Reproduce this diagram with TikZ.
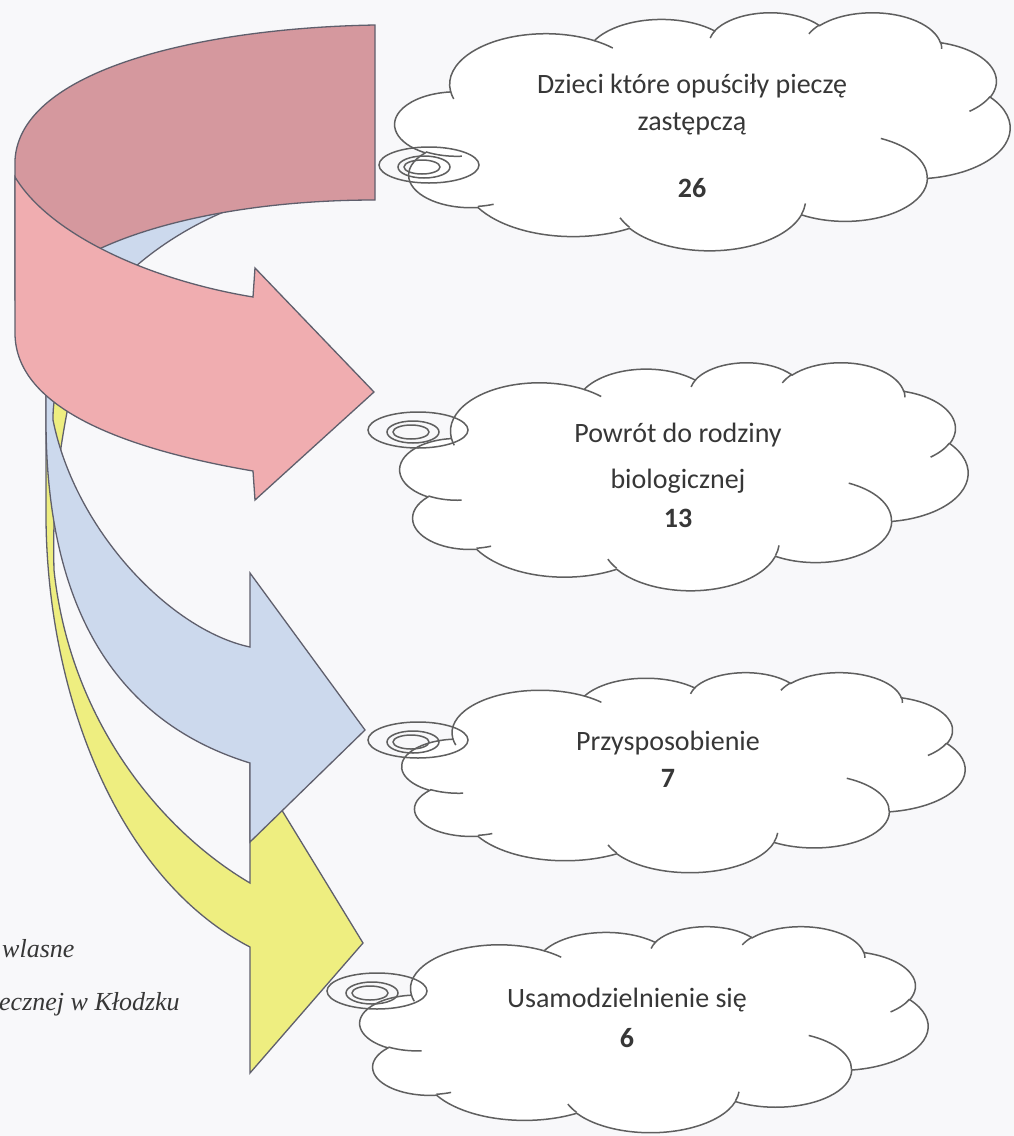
\documentclass[tikz,border=0pt]{standalone}
\usepackage{fontspec}
\setmainfont{Carlito}
\newfontfamily\srcfont{Liberation Serif}
\definecolor{paper}{RGB}{248,248,250}
\definecolor{pinkback}{RGB}{213,152,158}
\definecolor{pinkfront}{RGB}{240,173,176}
\definecolor{bluefill}{RGB}{204,217,237}
\definecolor{yellowfill}{RGB}{238,238,128}
\definecolor{arrowgray}{RGB}{95,95,108}
\definecolor{cloudgray}{RGB}{95,95,95}
\definecolor{textgray}{RGB}{55,55,55}
\tikzset{
  arrowshape/.style={draw=arrowgray, line width=1.3pt, line join=miter},
  cloudstroke/.style={draw=cloudgray, line width=1.5pt},
  ctext/.style={font=\fontsize{28}{34}\selectfont, text=textgray, inner sep=0pt},
  ntext/.style={font=\fontsize{28}{34}\selectfont\bfseries, text=textgray, inner sep=0pt},
  srctext/.style={font=\srcfont\itshape\fontsize{26}{30}\selectfont, text=textgray, inner sep=0pt},
}
\newcommand\drawmycloud[4]{%
  \begin{scope}[shift={(#1,#2)},xscale=#3/432,yscale=#4/432]
    \draw[cloudstroke,fill=white] (39.00,143.70)
      arc[start angle=-187.75,end angle=-59.64,x radius=67.53,y radius=91.90]
      arc[start angle=-151.99,end angle=-45.48,x radius=53.33,y radius=72.67]
      arc[start angle=-153.47,end angle=-37.37,x radius=43.65,y radius=59.45]
      arc[start angle=-139.77,end angle=-10.19,x radius=48.57,y radius=65.95]
      arc[start angle=-74.80,end angle=23.26,x radius=53.33,y radius=72.73]
      arc[start angle=-37.52,end angle=81.87,x radius=67.75,y radius=92.20]
      arc[start angle=0.46,end angle=121.99,x radius=57.85,y radius=78.67]
      arc[start angle=16.89,end angle=146.15,x radius=67.52,y radius=92.15]
      arc[start angle=59.08,end angle=150.09,x radius=77.20,y radius=105.43]
      arc[start angle=-276.71,end angle=-136.96,x radius=43.60,y radius=59.18]
      arc[start angle=-239.79,end angle=-95.85,x radius=43.45,y radius=59.45]
      -- cycle;
    \draw[cloudstroke]
      (46.93,261.77) arc[start angle=85.55,end angle=120.35,x radius=43.45,y radius=59.45]
      (69.28,348.99) arc[start angle=68.24,end angle=83.30,x radius=43.60,y radius=59.18]
      (164.78,390.90) arc[start angle=146.23,end angle=158.47,x radius=67.52,y radius=92.15]
      (288.27,347.51) arc[start angle=4.74,end angle=16.89,x radius=67.52,y radius=92.15]
      (341.29,229.54) arc[start angle=-64.03,end angle=0.46,x radius=57.85,y radius=78.67]
      (417.98,153.54) arc[start angle=23.26,end angle=49.63,x radius=53.33,y radius=72.73]
      (383.24,54.26) arc[start angle=-10.19,end angle=0.82,x radius=48.57,y radius=65.95]
      (290.78,39.52) arc[start angle=-156.29,end angle=-139.77,x radius=48.57,y radius=65.95]
      (221.41,47.20) arc[start angle=-167.73,end angle=-153.47,x radius=43.65,y radius=59.45]
      (140.00,51.92) arc[start angle=-59.64,end angle=-45.71,x radius=67.53,y radius=91.90]
      (41.27,157.89) arc[start angle=163.19,end angle=172.25,x radius=67.53,y radius=91.90];
  \end{scope}}
\newcommand\drawmytail[2]{%
  \draw[cloudstroke] (#1,#2) ellipse[x radius=50,y radius=18];
  \draw[cloudstroke] (#1-5,#2+2) ellipse[x radius=26,y radius=11];
  \draw[cloudstroke] (#1-7,#2+2) ellipse[x radius=18,y radius=7];}
\begin{document}
\begin{tikzpicture}[x=1pt,y=-1pt]
\useasboundingbox (0,0) rectangle (1014,1136);
\fill[paper] (0,0) rectangle (1014,1136);

% ---- arrows (back to front) ----
\draw[arrowshape, fill=yellowfill] (46,350) -- (46,520)
  .. controls (48,700) and (120,880) .. (250,947)
  -- (250,1073) -- (363,943) -- (250,758) -- (250,883)
  .. controls (160,830) and (70,720) .. (54,570)
  .. controls (52,490) and (60,440) .. (80,350) -- cycle;

\draw[arrowshape, fill=bluefill] (262,172)
  .. controls (100,182) and (46,260) .. (46,400) -- (46,420)
  .. controls (46,600) and (110,720) .. (250,763)
  -- (250,842) -- (365,730) -- (250,573) -- (250,647)
  .. controls (170,630) and (75,530) .. (53,420)
  .. controls (52,340) and (130,238) .. (262,198) -- cycle;

\draw[arrowshape, fill=pinkback] (15,300) -- (15,160)
  .. controls (20,70) and (200,28) .. (375,25) -- (375,200)
  .. controls (260,200) and (160,220) .. (97,250) -- (97,300) -- cycle;

\draw[arrowshape, fill=pinkfront] (15,177)
  .. controls (50,235) and (150,280) .. (253,297)
  -- (255,268) -- (374,392) -- (255,500) -- (253,471)
  .. controls (130,450) and (15,410) .. (15,333) -- cycle;

% ---- clouds ----
\drawmycloud{395}{12}{615}{238}
\drawmytail{429}{165}
\drawmycloud{400}{362}{568}{228}
\drawmytail{418}{430}
\drawmycloud{402}{672}{563}{200}
\drawmytail{418}{740}
\drawmycloud{360}{926}{568}{206}
\drawmytail{377}{991}

% ---- texts ----
\node[ctext, anchor=base] (t1a) at (692,93) {Dzieci które opuściły pieczę};
\node[ctext, anchor=base] (t1b) at (692,130) {zastępczą};
\node[ntext, anchor=base] (t1c) at (692,197) {26};

\node[ctext, anchor=base] (t2a) at (678,442) {Powrót do rodziny};
\node[ctext, anchor=base] (t2b) at (678,488) {biologicznej};
\node[ntext, anchor=base] (t2c) at (678,527) {13};

\node[ctext, anchor=base] (t3a) at (668,750) {Przysposobienie};
\node[ntext, anchor=base] (t3b) at (668,787) {7};

\node[ctext, anchor=base] (t4a) at (627,1007) {Usamodzielnienie się};
\node[ntext, anchor=base] (t4b) at (627,1047) {6};

\node[srctext, anchor=base west] (s1) at (2,957) {wlasne};
\node[srctext, anchor=base west] (s2) at (-1,1010) {ecznej w Kłodzku};
\end{tikzpicture}
\end{document}
